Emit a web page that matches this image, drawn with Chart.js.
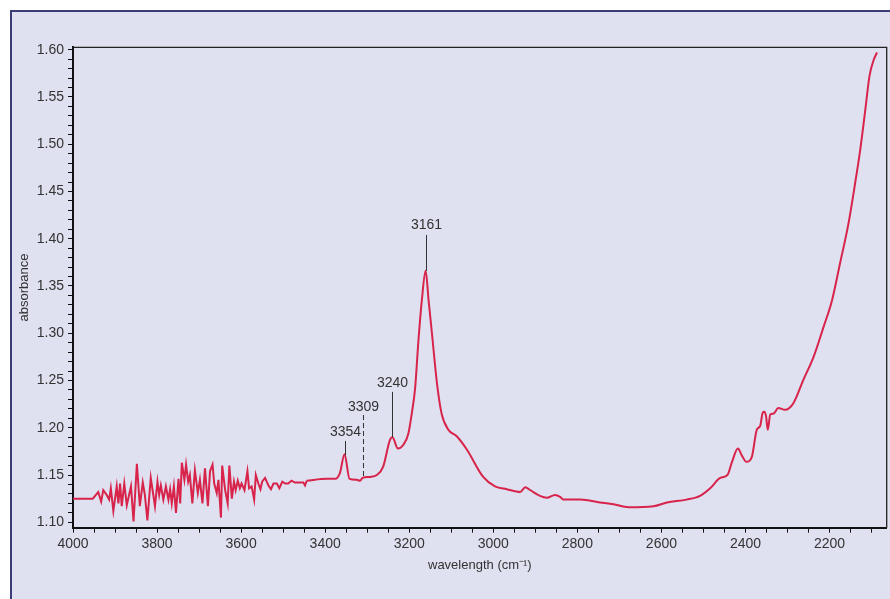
<!DOCTYPE html>
<html>
<head>
<meta charset="utf-8">
<script src="https://cdn.jsdelivr.net/npm/chart.js@4.4.1/dist/chart.umd.min.js"></script>
<style>
    body { margin: 0; background: #ffffff; overflow: hidden; }
    #frame {
        position: absolute; left: 10px; top: 10px; width: 920px; height: 640px;
        background: #dfe0f0; border-left: 2px solid #393c78; border-top: 2px solid #393c78;
    }
    #wrap { position: absolute; left: 0; top: 0; width: 890px; height: 599px; }
</style>
</head>
<body>
<div id="frame"></div>
<div id="wrap"><canvas id="spectrum" width="890" height="599"></canvas></div>
<script>
// wavenumber (cm-1) and absorbance
let wavenumbers = [4000, 3953, 3940, 3933, 3928, 3920, 3914, 3910, 3904, 3896, 3892, 3888, 3884, 3878, 3872, 3862,
    3856, 3848, 3841, 3834, 3829, 3823, 3815, 3809, 3805, 3799, 3795, 3791, 3785, 3779, 3773, 3769, 3765, 3760,
    3755, 3749, 3745, 3741, 3735, 3731, 3726, 3722, 3716, 3710, 3703, 3698, 3692, 3686, 3679, 3674, 3668, 3664,
    3658, 3654, 3648, 3645, 3638, 3632, 3628, 3622, 3617, 3613, 3608, 3603, 3599, 3592, 3585, 3581, 3575, 3569,
    3565, 3559, 3554, 3550, 3543, 3535, 3529, 3523, 3515, 3509, 3502, 3495, 3488, 3480, 3472, 3452, 3448, 3444,
    3396, 3376, 3365, 3354, 3342, 3325, 3317, 3311, 3293, 3277, 3262, 3246, 3240, 3227, 3214, 3202, 3194, 3186,
    3178, 3170, 3161, 3154, 3146, 3134, 3123, 3107, 3087, 3063, 3024, 2996, 2968, 2936, 2924, 2912, 2889, 2873,
    2853, 2841, 2833, 2793, 2746, 2714, 2678, 2619, 2587, 2540, 2508, 2484, 2460, 2443, 2432, 2418, 2409, 2398,
    2385, 2373, 2365, 2359, 2355, 2351, 2347, 2341, 2333, 2322, 2306, 2286, 2262, 2238, 2214, 2194, 2175, 2155,
    2139, 2127, 2115, 2105, 2095, 2087];
let absorbance = [1.125, 1.125, 1.132, 1.122, 1.134, 1.129, 1.124, 1.136, 1.112, 1.138, 1.120, 1.141, 1.117, 1.141, 1.118, 1.138,
    1.101, 1.162, 1.117, 1.142, 1.129, 1.102, 1.147, 1.129, 1.117, 1.143, 1.129, 1.139, 1.124, 1.138, 1.124, 1.135, 1.120, 1.138,
    1.110, 1.146, 1.120, 1.163, 1.145, 1.161, 1.143, 1.150, 1.120, 1.155, 1.131, 1.145, 1.120, 1.157, 1.117, 1.154, 1.161, 1.141,
    1.131, 1.145, 1.105, 1.160, 1.134, 1.120, 1.160, 1.125, 1.143, 1.134, 1.144, 1.136, 1.141, 1.134, 1.154, 1.136, 1.138, 1.124,
    1.150, 1.141, 1.135, 1.143, 1.147, 1.139, 1.135, 1.141, 1.141, 1.136, 1.143, 1.141, 1.141, 1.144, 1.142, 1.142, 1.139, 1.144,
    1.146, 1.146, 1.152, 1.172, 1.146, 1.145, 1.144, 1.147, 1.148, 1.150, 1.159, 1.187, 1.190, 1.178, 1.182, 1.194, 1.215, 1.242,
    1.293, 1.335, 1.366, 1.335, 1.300, 1.247, 1.215, 1.198, 1.191, 1.177, 1.148, 1.138, 1.135, 1.132, 1.137, 1.134, 1.128, 1.126,
    1.129, 1.127, 1.124, 1.124, 1.121, 1.119, 1.116, 1.117, 1.121, 1.124, 1.128, 1.136, 1.147, 1.150, 1.164, 1.178, 1.171, 1.164,
    1.169, 1.198, 1.202, 1.216, 1.217, 1.212, 1.198, 1.214, 1.215, 1.221, 1.219, 1.226, 1.251, 1.275, 1.307, 1.335, 1.374, 1.416,
    1.459, 1.494, 1.536, 1.572, 1.589, 1.597];

// the noisy part is drawn with straight segments, the rest smoothed
const noiseEnd = 3444;

// labelled peaks
let peakWavenumbers = [3354, 3309, 3240, 3161];
let peakLabels = ['3354', '3309', '3240', '3161'];
let peakLabelAt = [1.195, 1.222, 1.247, 1.4146];
let peakLineTop = [1.186, 1.2135, 1.238, 1.404];
let peakLineBottom = [1.171, 1.147, 1.190, 1.366];
let peakDashed = [false, true, false, false];

let xMin = 2064, xMax = 4000;
let yMin = 1.0943, yMax = 1.6025;

const lineColor = '#d8234a';
const textColor = '#333333';
const fontFamily = '"Liberation Sans", Arial, sans-serif';

let points = wavenumbers.map((w, i) => ({ x: w, y: absorbance[i] }));
let splitIndex = wavenumbers.indexOf(noiseEnd);
let noisyPart = points.slice(0, splitIndex + 1);
let smoothPart = points.slice(splitIndex);

const frameAndPeaks = {
    id: 'frameAndPeaks',
    afterDraw(chart) {
        let ctx = chart.ctx;
        let area = chart.chartArea;
        let xs = chart.scales.x, ys = chart.scales.y;
        ctx.save();
        // top and right edges of the plot box
        ctx.strokeStyle = '#222';
        ctx.lineWidth = 1.3;
        ctx.beginPath();
        ctx.moveTo(area.left, area.top);
        ctx.lineTo(area.right, area.top);
        ctx.lineTo(area.right, area.bottom);
        ctx.stroke();

        ctx.font = '14px ' + fontFamily;
        ctx.textAlign = 'center';
        ctx.textBaseline = 'middle';
        peakWavenumbers.forEach(function(w, i) {
            let px = Math.round(xs.getPixelForValue(w)) + 0.5;
            ctx.strokeStyle = '#333';
            ctx.lineWidth = 1;
            ctx.setLineDash(peakDashed[i] ? [5, 3] : []);
            ctx.beginPath();
            ctx.moveTo(px, ys.getPixelForValue(peakLineTop[i]));
            ctx.lineTo(px, ys.getPixelForValue(peakLineBottom[i]));
            ctx.stroke();
            ctx.setLineDash([]);
            ctx.fillStyle = textColor;
            ctx.fillText(peakLabels[i], px, ys.getPixelForValue(peakLabelAt[i]));
        });
        ctx.restore();
    }
};

function isMultiple(value, step) {
    let r = value / step;
    return Math.abs(r - Math.round(r)) < 1e-6;
}

let ctx = document.getElementById('spectrum').getContext('2d');
window.spectrumChart = new Chart(ctx, {
    type: 'scatter',
    data: {
        datasets: [{
            data: noisyPart,
            showLine: true,
            borderColor: lineColor,
            borderWidth: 2,
            pointRadius: 0,
            tension: 0
        }, {
            data: smoothPart,
            showLine: true,
            borderColor: lineColor,
            borderWidth: 2,
            pointRadius: 0,
            cubicInterpolationMode: 'monotone'
        }]
    },
    options: {
        responsive: false,
        animation: false,
        layout: { padding: { left: 13, right: 3.3, top: 47.3, bottom: 22 } },
        plugins: {
            legend: { display: false },
            tooltip: { enabled: false }
        },
        scales: {
            x: {
                type: 'linear',
                reverse: true,
                min: xMin,
                max: xMax,
                afterFit: function(scale) { scale.height = 599 - 22 - 527.7; },
                border: { color: '#111', width: 2 },
                grid: { drawOnChartArea: false, color: '#111', tickLength: 5, tickWidth: 1 },
                ticks: {
                    stepSize: 50,
                    includeBounds: false,
                    autoSkip: false,
                    maxRotation: 0,
                    padding: 3,
                    color: textColor,
                    font: { family: fontFamily, size: 14 },
                    callback: function(value) { return isMultiple(value, 200) ? String(value) : ''; }
                },
                title: {
                    display: true,
                    text: 'wavelength (cm⁻¹)',
                    color: textColor,
                    font: { family: fontFamily, size: 13 }
                }
            },
            y: {
                min: yMin,
                max: yMax,
                afterFit: function(scale) { scale.width = 73 - 13; },
                border: { color: '#111', width: 2 },
                grid: { drawOnChartArea: false, color: '#111', tickLength: 5, tickWidth: 1 },
                ticks: {
                    stepSize: 0.01,
                    includeBounds: false,
                    autoSkip: false,
                    padding: 4,
                    color: textColor,
                    font: { family: fontFamily, size: 14 },
                    callback: function(value) { return isMultiple(value, 0.05) ? value.toFixed(2) : ''; }
                },
                title: {
                    display: true,
                    text: 'absorbance',
                    color: textColor,
                    font: { family: fontFamily, size: 13 }
                }
            }
        }
    },
    plugins: [frameAndPeaks]
});
</script>
</body>
</html>
